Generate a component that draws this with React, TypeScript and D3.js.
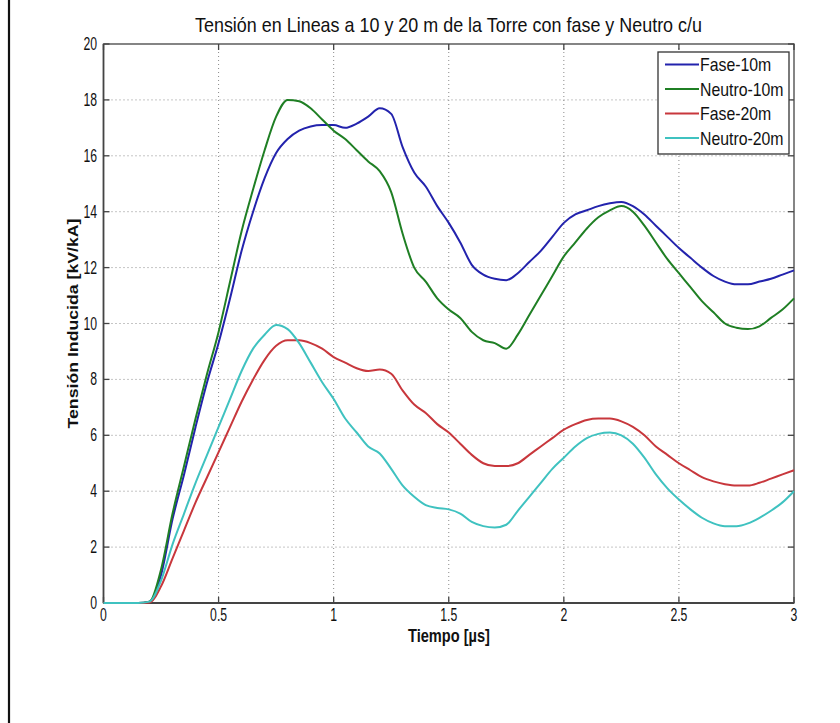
import React, { useEffect, useRef } from 'react';
import * as d3 from 'd3';

// Sample times in microseconds
const time = [
  0, 0.05, 0.1, 0.15, 0.2, 0.25, 0.3, 0.35, 0.4, 0.45, 0.5, 0.55, 0.6, 0.65, 0.7, 0.75, 0.8, 0.85, 0.9, 0.95,
  1.0, 1.05, 1.1, 1.15, 1.2, 1.25, 1.3, 1.35, 1.4, 1.45, 1.5, 1.55, 1.6, 1.65, 1.7, 1.75, 1.8, 1.85, 1.9, 1.95,
  2.0, 2.05, 2.1, 2.15, 2.2, 2.25, 2.3, 2.35, 2.4, 2.45, 2.5, 2.55, 2.6, 2.65, 2.7, 2.75, 2.8, 2.85, 2.9, 2.95, 3.0,
];

// Induced voltage [kV/kA]
const fase10 = [
  0, 0, 0, 0, 0.05, 1.0, 3.0, 4.6, 6.3, 7.9, 9.3, 10.9, 12.6, 14.0, 15.2, 16.1, 16.6, 16.9, 17.05, 17.1,
  17.1, 17.0, 17.15, 17.4, 17.7, 17.5, 16.3, 15.4, 14.9, 14.2, 13.6, 12.9, 12.1, 11.75, 11.6, 11.55, 11.8, 12.2, 12.6, 13.1,
  13.6, 13.9, 14.05, 14.2, 14.3, 14.35, 14.2, 13.9, 13.5, 13.1, 12.7, 12.35, 12.0, 11.7, 11.5, 11.4, 11.4, 11.5, 11.6, 11.75, 11.9,
];
const neutro10 = [
  0, 0, 0, 0, 0.05, 1.2, 3.2, 4.9, 6.6, 8.2, 9.7, 11.5, 13.3, 14.8, 16.2, 17.4, 18.0, 17.95, 17.7, 17.3,
  16.9, 16.6, 16.2, 15.8, 15.45, 14.7, 13.2, 12.0, 11.5, 10.9, 10.5, 10.2, 9.7, 9.4, 9.3, 9.1, 9.6, 10.3, 11.0, 11.7,
  12.4, 12.9, 13.4, 13.8, 14.05, 14.2, 14.0, 13.5, 12.9, 12.3, 11.8, 11.3, 10.8, 10.4, 10.0, 9.85, 9.8, 9.9, 10.2, 10.5, 10.9,
];
const fase20 = [
  0, 0, 0, 0, 0.02, 0.6, 1.6, 2.6, 3.6, 4.5, 5.4, 6.3, 7.2, 8.0, 8.7, 9.2, 9.4, 9.4, 9.3, 9.1,
  8.8, 8.6, 8.4, 8.3, 8.35, 8.2, 7.6, 7.1, 6.8, 6.4, 6.1, 5.7, 5.3, 5.0, 4.9, 4.9, 5.0, 5.3, 5.6, 5.9,
  6.2, 6.4, 6.55, 6.6, 6.6, 6.5, 6.3, 6.0, 5.6, 5.3, 5.0, 4.75, 4.5, 4.35, 4.25, 4.2, 4.2, 4.3, 4.45, 4.6, 4.75,
];
const neutro20 = [
  0, 0, 0, 0, 0.05, 0.8, 2.1, 3.2, 4.3, 5.3, 6.3, 7.3, 8.3, 9.1, 9.6, 9.95, 9.8, 9.3, 8.6, 7.9,
  7.3, 6.6, 6.1, 5.6, 5.35, 4.8, 4.2, 3.8, 3.5, 3.4, 3.35, 3.2, 2.9, 2.75, 2.7, 2.8, 3.3, 3.8, 4.3, 4.8,
  5.2, 5.6, 5.9, 6.05, 6.1, 6.0, 5.7, 5.2, 4.6, 4.1, 3.7, 3.35, 3.05, 2.85, 2.75, 2.75, 2.85, 3.05, 3.3, 3.6, 4.0,
];

const seriesNames = ['Fase-10m', 'Neutro-10m', 'Fase-20m', 'Neutro-20m'];
const seriesValues = [fase10, neutro10, fase20, neutro20];
const seriesColors = ['#2323ad', '#1f7f24', '#c8373c', '#3fc2c0'];

const xTicks = [0, 0.5, 1, 1.5, 2, 2.5, 3];
const xTickLabels = ['0', '0.5', '1', '1.5', '2', '2.5', '3'];
const yTicks = [0, 2, 4, 6, 8, 10, 12, 14, 16, 18, 20];
const yTickLabels = ['0', '2', '4', '6', '8', '10', '12', '14', '16', '18', '20'];

const titleText = 'Tensión en Lineas a 10 y 20 m de la Torre con fase y Neutro c/u';
const xLabelText = 'Tiempo [µs]';
const yLabelText = 'Tensión Inducida [kV/kA]';

const FONT = '"Liberation Sans", Arial, Helvetica, sans-serif';

export default function App() {
  const ref = useRef<SVGSVGElement>(null);

  useEffect(() => {
    const svg = d3.select(ref.current);
    svg.selectAll('*').remove();

    const left = 103.5, right = 794, top = 44, bottom = 603;
    const x = d3.scaleLinear().domain([0, 3]).range([left, right]);
    const y = d3.scaleLinear().domain([0, 20]).range([bottom, top]);

    svg.append('rect').attr('width', 840).attr('height', 723).attr('fill', '#fff');

    // figure edge on the left
    svg.append('line').attr('x1', 9).attr('x2', 9).attr('y1', 0).attr('y2', 723)
      .attr('stroke', '#111').attr('stroke-width', 2.2);

    // narrow-looking text helper
    const label = (g: any, tx: number, ty: number, txt: string, size: number, sx: number, anchor: string, weight = 'normal') =>
      g.append('text')
        .attr('transform', `translate(${tx},${ty}) scale(${sx},1)`)
        .attr('text-anchor', anchor)
        .attr('font-family', FONT)
        .attr('font-size', size)
        .attr('font-weight', weight)
        .attr('fill', '#111')
        .text(txt);

    // grid
    const grid = svg.append('g').attr('stroke', '#8a8a8a').attr('stroke-width', 1).attr('stroke-dasharray', '1,3');
    xTicks.slice(1, -1).forEach((t) => {
      grid.append('line').attr('x1', x(t)).attr('x2', x(t)).attr('y1', top).attr('y2', bottom);
    });
    yTicks.slice(1, -1).forEach((v) => {
      grid.append('line').attr('x1', left).attr('x2', right).attr('y1', y(v)).attr('y2', y(v));
    });

    // axes box and ticks
    const axis = svg.append('g').attr('stroke', '#444').attr('fill', 'none');
    axis.append('rect').attr('x', left).attr('y', top).attr('width', right - left).attr('height', bottom - top)
      .attr('stroke-width', 1.3);
    axis.append('line').attr('x1', left).attr('x2', right).attr('y1', bottom).attr('y2', bottom).attr('stroke-width', 2);
    axis.append('line').attr('x1', left).attr('x2', left).attr('y1', top).attr('y2', bottom).attr('stroke-width', 1.6);
    const tl = 6;
    xTicks.forEach((t) => {
      axis.append('line').attr('x1', x(t)).attr('x2', x(t)).attr('y1', bottom).attr('y2', bottom - tl).attr('stroke-width', 1.3);
      axis.append('line').attr('x1', x(t)).attr('x2', x(t)).attr('y1', top).attr('y2', top + tl).attr('stroke-width', 1.3);
    });
    yTicks.forEach((v) => {
      axis.append('line').attr('x1', left).attr('x2', left + tl).attr('y1', y(v)).attr('y2', y(v)).attr('stroke-width', 1.3);
      axis.append('line').attr('x1', right).attr('x2', right - tl).attr('y1', y(v)).attr('y2', y(v)).attr('stroke-width', 1.3);
    });

    // tick labels
    const tickG = svg.append('g');
    xTicks.forEach((t, i) => label(tickG, x(t), 621, xTickLabels[i], 18, 0.68, 'middle'));
    yTicks.forEach((v, i) => label(tickG, 97, y(v) + 6, yTickLabels[i], 18, 0.68, 'end'));

    // series
    const lineGen = d3.line<number>()
      .x((_, i) => x(time[i]))
      .y((d) => y(d))
      .curve(d3.curveMonotoneX);
    seriesValues.forEach((vals, k) => {
      svg.append('path').datum(vals).attr('d', lineGen as any)
        .attr('fill', 'none').attr('stroke', seriesColors[k]).attr('stroke-width', 2)
        .attr('stroke-linejoin', 'round');
    });

    // legend
    const lg = svg.append('g');
    lg.append('rect').attr('x', 658).attr('y', 52).attr('width', 131).attr('height', 102)
      .attr('fill', '#fff').attr('stroke', '#333').attr('stroke-width', 1.3);
    const rowY = [64.5, 89, 113.5, 138];
    seriesNames.forEach((n, k) => {
      lg.append('line').attr('x1', 665).attr('x2', 699).attr('y1', rowY[k]).attr('y2', rowY[k])
        .attr('stroke', seriesColors[k]).attr('stroke-width', 2);
      label(lg, 700, rowY[k] + 6.5, n, 18, 0.88, 'start');
    });

    // titles
    svg.append('text').attr('x', 448.5).attr('y', 32).attr('text-anchor', 'middle')
      .attr('font-family', FONT).attr('font-size', 21).attr('fill', '#111')
      .attr('textLength', 507).attr('lengthAdjust', 'spacingAndGlyphs').text(titleText);
    svg.append('text').attr('x', 449).attr('y', 642).attr('text-anchor', 'middle')
      .attr('font-family', FONT).attr('font-size', 18).attr('font-weight', 'bold').attr('fill', '#111')
      .attr('textLength', 82).attr('lengthAdjust', 'spacingAndGlyphs').text(xLabelText);
    svg.append('text').attr('transform', `translate(78,${(top + bottom) / 2}) rotate(-90)`).attr('text-anchor', 'middle')
      .attr('font-family', FONT).attr('font-size', 15).attr('font-weight', 'bold').attr('fill', '#111')
      .attr('textLength', 210).attr('lengthAdjust', 'spacingAndGlyphs').text(yLabelText);
  }, []);

  return (
    <svg ref={ref} width={840} height={723}
      style={{ position: 'absolute', left: 0, top: 0, display: 'block' }} />
  );
}
